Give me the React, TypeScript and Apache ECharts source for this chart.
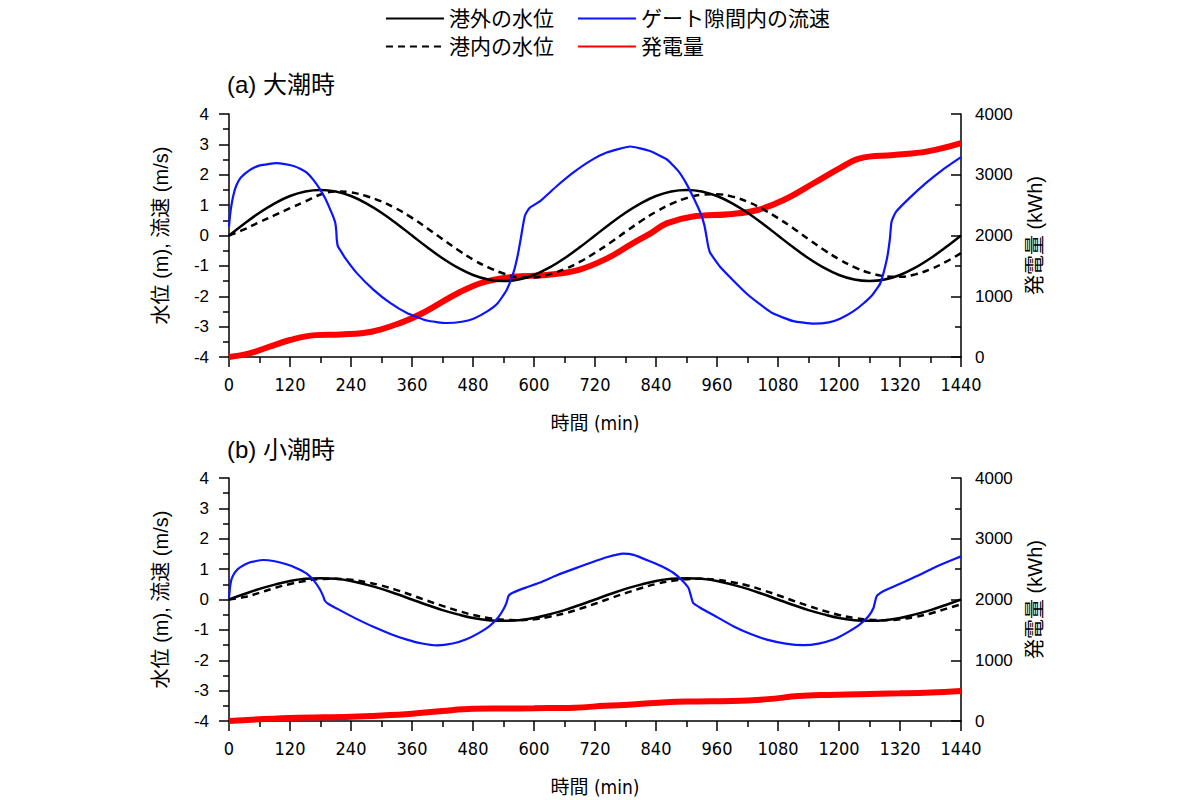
import React, { useEffect, useRef } from "react";
import * as echarts from "echarts";

// ---- data ----
const waterTimes = [0,30,60,90,120,150,180,210,240,270,300,330,360,390,420,450,480,510,540,570,600,630,660,690,720,750,780,810,840,870,900,930,960,990,1020,1050,1080,1110,1140,1170,1200,1230,1260,1290,1320,1350,1380,1410,1440];

const outerLevelA = [0,0.39,0.75,1.06,1.3,1.45,1.5,1.45,1.3,1.06,0.75,0.39,0,-0.39,-0.75,-1.06,-1.3,-1.45,-1.5,-1.45,-1.3,-1.06,-0.75,-0.39,0,0.39,0.75,1.06,1.3,1.45,1.5,1.45,1.3,1.06,0.75,0.39,0,-0.39,-0.75,-1.06,-1.3,-1.45,-1.5,-1.45,-1.3,-1.06,-0.75,-0.39,0];
const innerLevelA = [0,0.2,0.44,0.67,0.9,1.12,1.35,1.45,1.42,1.3,1.12,0.88,0.58,0.24,-0.12,-0.47,-0.79,-1.05,-1.25,-1.38,-1.38,-1.28,-1.11,-0.87,-0.57,-0.24,0.12,0.47,0.78,1.04,1.23,1.34,1.36,1.28,1.11,0.87,0.57,0.24,-0.12,-0.47,-0.78,-1.04,-1.23,-1.34,-1.36,-1.28,-1.11,-0.87,-0.58];

const outerLevelB = [0,0.18,0.35,0.49,0.61,0.68,0.7,0.68,0.61,0.49,0.35,0.18,0,-0.18,-0.35,-0.49,-0.61,-0.68,-0.7,-0.68,-0.61,-0.49,-0.35,-0.18,0,0.18,0.35,0.49,0.61,0.68,0.7,0.68,0.61,0.49,0.35,0.18,0,-0.18,-0.35,-0.49,-0.61,-0.68,-0.7,-0.68,-0.61,-0.49,-0.35,-0.18,0];
const innerLevelB = [0,0.08,0.22,0.38,0.51,0.61,0.67,0.68,0.65,0.57,0.46,0.31,0.14,-0.04,-0.21,-0.37,-0.51,-0.61,-0.67,-0.68,-0.65,-0.57,-0.46,-0.31,-0.14,0.04,0.21,0.37,0.51,0.61,0.67,0.68,0.65,0.57,0.46,0.31,0.14,-0.04,-0.21,-0.37,-0.51,-0.61,-0.67,-0.68,-0.65,-0.57,-0.46,-0.31,-0.16];

const flowTimesA = [0,2,4.5,9,14,22,34,45,61,93,110,127,140,153,166,179,190,199,205,209,211,212,214,218,228,251,284,317,350,389,428,458,481,508,528,546,560,568,574,578,582,586,592,612,645,677,710,743,789,828,861,884,900,915,928,935,939,942,946,955,966,990,1018,1045,1071,1110,1150,1180,1202,1228,1248,1266,1281,1294,1300,1303,1308,1313,1339,1372,1405,1440];
const flowA = [0.3,0.65,0.97,1.35,1.63,1.88,2.07,2.2,2.31,2.38,2.35,2.29,2.2,2.07,1.83,1.52,1.2,0.86,0.62,0.42,0.15,-0.13,-0.35,-0.46,-0.73,-1.23,-1.78,-2.22,-2.55,-2.8,-2.88,-2.84,-2.74,-2.5,-2.24,-1.8,-1.2,-0.65,-0.1,0.3,0.64,0.78,0.92,1.13,1.63,2.07,2.45,2.73,2.93,2.78,2.51,2.12,1.7,1.2,0.72,0.35,0,-0.3,-0.55,-0.78,-1.03,-1.45,-1.91,-2.27,-2.57,-2.82,-2.9,-2.86,-2.74,-2.5,-2.24,-1.95,-1.58,-0.79,-0.13,0.42,0.65,0.8,1.24,1.74,2.18,2.58];

const flowTimesB = [0,2,5,12,21,40,67,90,113,133,153,167,179,185,189,195,218,244,284,320,350,380,409,440,467,492,513,530,540,546,550,559,585,612,645,677,710,743,775,796,828,850,874,890,904,908,913,927,960,992,1025,1058,1095,1130,1160,1189,1215,1241,1258,1268,1272,1275,1287,1320,1353,1386,1415,1440];
const flowB = [0.05,0.4,0.67,0.9,1.05,1.22,1.3,1.26,1.16,1.03,0.85,0.62,0.33,0.12,-0.05,-0.14,-0.35,-0.58,-0.9,-1.15,-1.32,-1.45,-1.51,-1.45,-1.31,-1.1,-0.87,-0.58,-0.32,-0.1,0.12,0.23,0.4,0.56,0.8,1.0,1.2,1.39,1.51,1.47,1.26,1.1,0.88,0.65,0.38,0.16,-0.11,-0.27,-0.58,-0.88,-1.13,-1.32,-1.45,-1.5,-1.45,-1.32,-1.1,-0.82,-0.55,-0.27,0,0.13,0.27,0.52,0.77,1.04,1.25,1.42];

const powerTimesA = [0,40,80,120,170,220,280,340,380,450,500,560,625,690,743,790,830,861,910,990,1040,1090,1150,1200,1241,1307,1372,1440];
const powerA = [0,60,170,280,360,370,415,570,720,1050,1230,1320,1350,1440,1620,1850,2040,2200,2310,2355,2420,2580,2860,3100,3270,3325,3380,3520];

const powerTimesB = [0,120,240,300,360,420,480,540,600,680,740,800,860,920,990,1060,1120,1180,1240,1320,1380,1440];
const powerB = [0,50,70,90,120,165,200,205,210,220,250,275,310,322,330,360,410,430,440,455,470,495];

const xTicks = { min: 0, max: 1440, interval: 120 };
const leftTicks = { min: -4, max: 4, interval: 1 };
const rightTicks = { min: 0, max: 4000, interval: 1000 };

const NAME_OUTER = "港外の水位";
const NAME_INNER = "港内の水位";
const NAME_FLOW = "ゲート隙間内の流速";
const NAME_POWER = "発電量";

const pairs = (ts: number[], vs: number[]) => ts.map((t, i) => [t, vs[i]]);

const cjk = 'Arial, "Liberation Sans", "Noto Sans CJK JP", sans-serif';
const narrow = '"Liberation Sans Narrow", "Arial Narrow", "DejaVu Sans Condensed", Arial, "Noto Sans CJK JP", sans-serif';
const plain = (v: number) => String(v);

export default function App() {
  const ref = useRef<HTMLDivElement>(null);
  useEffect(() => {
    if (!ref.current) return;
    const chart = echarts.init(ref.current, undefined, { renderer: "svg" });

    const grids = [
      { left: 229, width: 732, top: 114, height: 243 },
      { left: 229, width: 732, top: 478, height: 243 },
    ];
    const axisLine = { show: true, onZero: false, lineStyle: { color: "#000", width: 1.5 } };
    const tickStyle = { color: "#000", width: 1.5 };

    const xAxis = [0, 1].map((g) => ({
      type: "value",
      gridIndex: g,
      ...xTicks,
      axisLine,
      axisTick: { show: true, length: 10, lineStyle: tickStyle },
      minorTick: { show: true, splitNumber: 2, length: 6, lineStyle: tickStyle },
      splitLine: { show: false },
      axisLabel: { fontSize: 18, color: "#000", fontFamily: narrow, margin: 18, formatter: plain },
      name: "時間 (min)",
      nameLocation: "middle",
      nameGap: 56,
      nameTextStyle: { fontSize: 19, color: "#000", fontFamily: narrow },
    }));

    const yAxis: any[] = [];
    [0, 1].forEach((g) => {
      yAxis.push({
        type: "value",
        gridIndex: g,
        position: "left",
        ...leftTicks,
        axisLine,
        axisTick: { show: true, length: 10, lineStyle: tickStyle },
        minorTick: { show: true, splitNumber: 2, length: 6, lineStyle: tickStyle },
        splitLine: { show: false },
        axisLabel: { fontSize: 17, color: "#000", fontFamily: cjk, margin: 20, formatter: plain },
        name: "水位 (m), 流速 (m/s)",
        nameLocation: "middle",
        nameRotate: 90,
        nameGap: 58,
        nameTextStyle: { fontSize: 20, color: "#000", fontFamily: cjk },
      });
      yAxis.push({
        type: "value",
        gridIndex: g,
        position: "right",
        ...rightTicks,
        axisLine,
        axisTick: { show: true, inside: true, length: 10, lineStyle: tickStyle },
        minorTick: { show: true, splitNumber: 2, length: 6, lineStyle: tickStyle },
        splitLine: { show: false },
        axisLabel: { fontSize: 17, color: "#000", fontFamily: cjk, margin: 14, formatter: plain },
        name: "発電量 (kWh)",
        nameLocation: "middle",
        nameRotate: 90,
        nameGap: 64,
        nameTextStyle: { fontSize: 20, color: "#000", fontFamily: cjk },
      });
    });

    const mk = (g: number) => [
      {
        name: NAME_POWER, type: "line", xAxisIndex: g, yAxisIndex: g * 2 + 1,
        data: pairs(g === 0 ? powerTimesA : powerTimesB, g === 0 ? powerA : powerB),
        symbol: "none", smooth: 0.4, lineStyle: { color: "#ff0000", width: 6 }, itemStyle: { color: "#ff0000" },
      },
      {
        name: NAME_OUTER, type: "line", xAxisIndex: g, yAxisIndex: g * 2,
        data: pairs(waterTimes, g === 0 ? outerLevelA : outerLevelB),
        symbol: "none", smooth: 0.4, lineStyle: { color: "#000", width: 2.5 }, itemStyle: { color: "#000" },
      },
      {
        name: NAME_INNER, type: "line", xAxisIndex: g, yAxisIndex: g * 2,
        data: pairs(waterTimes, g === 0 ? innerLevelA : innerLevelB),
        symbol: "none", smooth: 0.4, lineStyle: { color: "#000", width: 2.5, type: [7, 5] }, itemStyle: { color: "#000" },
      },
      {
        name: NAME_FLOW, type: "line", xAxisIndex: g, yAxisIndex: g * 2,
        data: pairs(g === 0 ? flowTimesA : flowTimesB, g === 0 ? flowA : flowB),
        symbol: "none", smooth: 0.15, lineStyle: { color: "#0a14ff", width: 2.2 }, itemStyle: { color: "#0a14ff" },
      },
    ];

    const legendText = { fontSize: 21, color: "#000", fontFamily: cjk };
    const legendCommon = {
      left: 380, itemWidth: 58, itemHeight: 14, itemGap: 23,
      textStyle: legendText, selectedMode: false,
      itemStyle: { opacity: 0 },
    };

    chart.setOption({
      animation: false,
      backgroundColor: "#fff",
      title: [
        { text: "(a) 大潮時", left: 222, top: 67, textStyle: { fontSize: 24, fontWeight: "normal", color: "#000", fontFamily: cjk } },
        { text: "(b) 小潮時", left: 222, top: 432, textStyle: { fontSize: 24, fontWeight: "normal", color: "#000", fontFamily: cjk } },
      ],
      legend: [
        { ...legendCommon, data: [NAME_OUTER, NAME_FLOW], top: 3 },
        { ...legendCommon, data: [NAME_INNER, NAME_POWER], top: 31 },
      ],
      grid: grids,
      xAxis,
      yAxis,
      series: [...mk(0), ...mk(1)],
    });
    return () => chart.dispose();
  }, []);
  return <div ref={ref} style={{ position: "fixed", left: 0, top: 0, width: 1200, height: 800 }} />;
}
